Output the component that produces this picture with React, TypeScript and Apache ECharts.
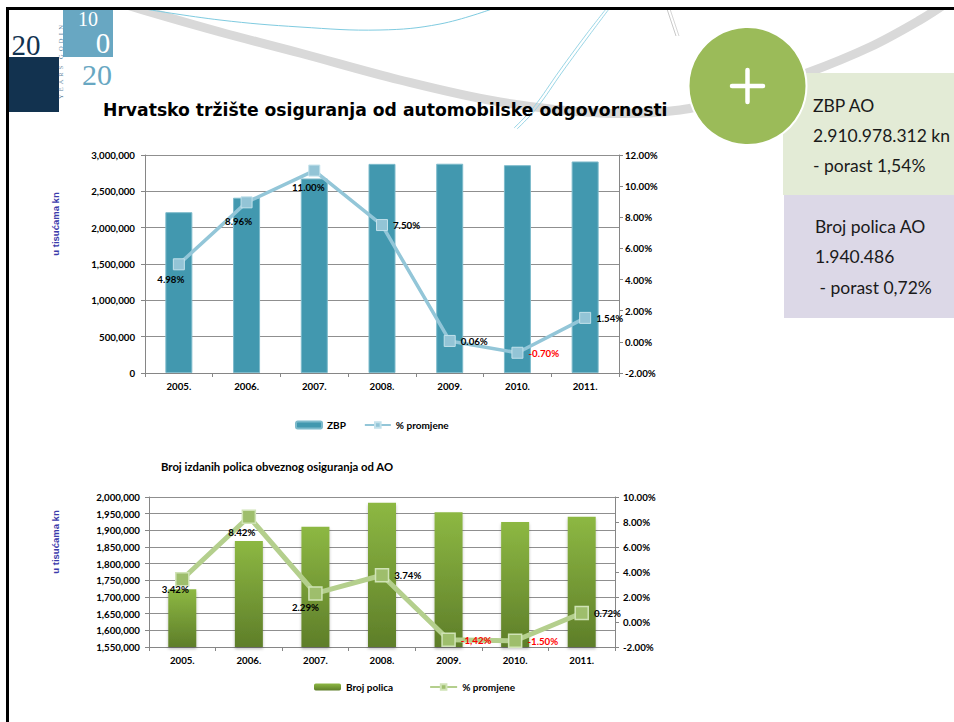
import React, { useEffect, useRef } from 'react';
import * as echarts from 'echarts';

// ---------- data ----------
const years = ['2005.', '2006.', '2007.', '2008.', '2009.', '2010.', '2011.'];

const zbpValues = [2213000, 2412000, 2677000, 2878000, 2880000, 2860000, 2910978];
const zbpChange = [4.98, 8.96, 11.0, 7.5, 0.06, -0.7, 1.54];
const zbpChangeLabels = ['4.98%', '8.96%', '11.00%', '7.50%', '0.06%', '-0.70%', '1.54%'];

const policyValues = [1723000, 1868000, 1911000, 1982500, 1954300, 1925000, 1940486];
const policyChange = [3.42, 8.42, 2.29, 3.74, -1.42, -1.5, 0.72];
const policyChangeLabels = ['3.42%', '8.42%', '2.29%', '3.74%', '-1,42%', '-1.50%', '0.72%'];

const zbpAxisLeft = [0, 3000000, 500000];
const zbpAxisRight = [-2, 12, 2];
const policyAxisLeft = [1550000, 2000000, 50000];
const policyAxisRight = [-2, 10, 2];

const zbpSummary = ['ZBP AO', '2.910.978.312 kn', '- porast 1,54%'];
const policySummary = ['Broj polica AO', '1.940.486', ' - porast 0,72%'];

// ---------- styling ----------
const LATO = 'Lato, "Open Sans", sans-serif';
const SERIF = '"Liberation Serif", serif';
const NARROW = '"Liberation Sans Narrow", "Liberation Sans", Arial, sans-serif';
const AX = '#868686';
const GRID = '#8f8f8f';

const zbpLabelPlace: any[] = [
  { position: 'bottom', offset: [-8, -1.5] },
  { position: 'bottom', offset: [-8, 3] },
  { position: 'bottom', offset: [-6, 0] },
  { position: 'right' },
  { position: 'right' },
  { position: 'right' },
  { position: 'right' },
];
const policyLabelPlace: any[] = [
  { position: 'bottom', offset: [-7, -7.5] },
  { position: 'bottom', offset: [-7, -2.5] },
  { position: 'bottom', offset: [-10, -4] },
  { position: 'right' },
  { position: 'right' },
  { position: 'right' },
  { position: 'right' },
];

const thousands = (v: number) => v.toLocaleString('en-US');
const pct = (v: number) => v.toFixed(2) + '%';

const axisText = { fontSize: 9.7, fontWeight: 'bold', fontFamily: LATO, color: '#000' };

function xAxisCfg(gridIndex: number) {
  return {
    type: 'category',
    gridIndex,
    data: years,
    axisLine: { onZero: false, lineStyle: { color: AX } },
    axisTick: { show: true, length: 4, lineStyle: { color: AX } },
    axisLabel: { ...axisText, margin: 8 },
  };
}

function leftAxis(gridIndex: number, r: number[], margin: number) {
  return {
    type: 'value',
    gridIndex,
    position: 'left',
    min: r[0],
    max: r[1],
    interval: r[2],
    axisLine: { show: true, lineStyle: { color: AX } },
    axisTick: { show: true, length: 4, lineStyle: { color: AX } },
    splitLine: { show: true, lineStyle: { color: GRID, width: 1 } },
    axisLabel: { ...axisText, margin, formatter: thousands },
  };
}

function rightAxis(gridIndex: number, r: number[], margin: number) {
  return {
    type: 'value',
    gridIndex,
    position: 'right',
    min: r[0],
    max: r[1],
    interval: r[2],
    axisLine: { show: true, lineStyle: { color: AX } },
    axisTick: { show: true, length: 4, lineStyle: { color: AX } },
    splitLine: { show: false },
    axisLabel: { ...axisText, margin, formatter: pct },
  };
}

function pctData(values: number[], labels: string[], place: any[]) {
  return values.map((v, i) => ({
    value: v,
    label: {
      show: true,
      ...place[i],
      formatter: labels[i],
      color: v < 0 ? '#ff0000' : '#000',
      fontSize: 9.7,
      fontWeight: 'bold',
      fontFamily: LATO,
    },
  }));
}

function buildOption(): any {
  const graphic: any[] = [
    // big grey arc
    {
      type: 'polyline',
      shape: {
        points: [
          [118, 2], [143, 10], [220, 32], [300, 53], [400, 80], [500, 102], [600, 113],
          [680, 110], [740, 95], [807, 73], [870, 47], [920, 20], [948, 2],
        ],
        smooth: 0.35,
      },
      style: { stroke: '#d9d9d9', lineWidth: 9, fill: null },
    },
    // thin grey lines
    { type: 'line', shape: { x1: 667, y1: 9, x2: 676, y2: 36 }, style: { stroke: '#c9c9c9', lineWidth: 1 } },
    { type: 'line', shape: { x1: 670, y1: 9, x2: 679, y2: 36 }, style: { stroke: '#d6d6d6', lineWidth: 1 } },
    // thin cyan curves
    {
      type: 'polyline',
      shape: { points: [[145, 9], [220, 20], [300, 27], [380, 30], [440, 24], [492, 9]], smooth: 0.4 },
      style: { stroke: '#7fcbe0', lineWidth: 1, fill: null },
    },
    {
      type: 'polyline',
      shape: { points: [[514, 128], [533, 108], [560, 70], [585, 36], [606, 9]], smooth: 0.4 },
      style: { stroke: '#9ad6e6', lineWidth: 1, fill: null },
    },
    {
      type: 'polyline',
      shape: { points: [[517, 129], [536, 109], [563, 71], [588, 37], [609, 9]], smooth: 0.4 },
      style: { stroke: '#9ad6e6', lineWidth: 1, fill: null },
    },
    // logo
    { type: 'rect', shape: { x: 63, y: 10, width: 50, height: 47 }, style: { fill: '#68a7c2' } },
    { type: 'rect', shape: { x: 7, y: 57, width: 52, height: 55 }, style: { fill: '#12324f' } },
    {
      type: 'text', x: 88, y: 19,
      style: { text: '10', fill: '#ffffff', fontSize: 20, fontFamily: SERIF, align: 'center', verticalAlign: 'middle' },
    },
    {
      type: 'text', x: 103, y: 43,
      style: { text: '0', fill: '#ffffff', fontSize: 29, fontFamily: SERIF, align: 'center', verticalAlign: 'middle' },
    },
    {
      type: 'text', x: 26, y: 45,
      style: { text: '20', fill: '#12324f', fontSize: 29, fontFamily: SERIF, align: 'center', verticalAlign: 'middle' },
    },
    {
      type: 'text', x: 97, y: 74,
      style: { text: '20', fill: '#68a7c2', fontSize: 30, fontFamily: SERIF, align: 'center', verticalAlign: 'middle' },
    },
    {
      type: 'text', x: 60, y: 62, rotation: Math.PI / 2,
      style: { text: 'Y  E  A  R  S    G  O  D  I  N', fill: '#5b7f9c', fontSize: 6.5, fontFamily: SERIF, align: 'center', verticalAlign: 'middle' },
    },
    // mask above frame + black frame
    { type: 'rect', shape: { x: 0, y: 0, width: 954, height: 7 }, style: { fill: '#ffffff' } },
    { type: 'rect', shape: { x: 6, y: 7, width: 948, height: 3 }, style: { fill: '#000000' } },
    { type: 'rect', shape: { x: 6, y: 7, width: 3, height: 715 }, style: { fill: '#000000' } },
    // summary boxes
    { type: 'rect', shape: { x: 783, y: 73, width: 171, height: 122 }, style: { fill: '#e3ebd6' } },
    { type: 'rect', shape: { x: 784, y: 195, width: 170, height: 123 }, style: { fill: '#dcd8e7' } },
    ...zbpSummary.map((t, i) => ({
      type: 'text', x: 813, y: 105 + i * 30,
      style: { text: t, fill: '#1a1a1a', fontSize: 17.5, fontFamily: LATO, align: 'left', verticalAlign: 'middle' },
    })),
    ...policySummary.map((t, i) => ({
      type: 'text', x: 815, y: 226 + i * 30.5,
      style: { text: t, fill: '#1a1a1a', fontSize: 17.5, fontFamily: LATO, align: 'left', verticalAlign: 'middle' },
    })),
    // green circle with plus
    { type: 'circle', shape: { cx: 747.5, cy: 86, r: 59 }, style: { fill: '#9bbb59', stroke: '#ffffff', lineWidth: 2 } },
    { type: 'line', shape: { x1: 732, y1: 86, x2: 763, y2: 86 }, style: { stroke: '#ffffff', lineWidth: 4.5, lineCap: 'round' } },
    { type: 'line', shape: { x1: 747.5, y1: 70, x2: 747.5, y2: 102 }, style: { stroke: '#ffffff', lineWidth: 4.5, lineCap: 'round' } },
    // titles
    {
      type: 'text', x: 103, y: 110,
      style: { text: 'Hrvatsko tržište osiguranja od automobilske odgovornosti', fill: '#000', fontSize: 17.2, fontWeight: 'bold', fontFamily: '"DejaVu Sans", sans-serif', align: 'left', verticalAlign: 'middle' },
    },
    {
      type: 'text', x: 161, y: 466,
      style: { text: 'Broj izdanih polica obveznog osiguranja od AO', fill: '#000', fontSize: 11.3, fontWeight: 'bold', fontFamily: LATO, align: 'left', verticalAlign: 'middle' },
    },
    // axis titles
    {
      type: 'text', x: 55, y: 224, rotation: Math.PI / 2,
      style: { text: 'u tisućama kn', fill: '#3b3bab', fontSize: 9.5, fontWeight: 'bold', fontFamily: NARROW, align: 'center', verticalAlign: 'middle' },
    },
    {
      type: 'text', x: 55, y: 542, rotation: Math.PI / 2,
      style: { text: 'u tisućama kn', fill: '#3b3bab', fontSize: 9.5, fontWeight: 'bold', fontFamily: NARROW, align: 'center', verticalAlign: 'middle' },
    },
  ];

  const legendText = { fontSize: 10, fontWeight: 'bold', fontFamily: LATO, color: '#000' };

  return {
    animation: false,
    backgroundColor: '#ffffff',
    graphic,
    grid: [
      { left: 145, top: 155, width: 474, height: 218 },
      { left: 149, top: 497, width: 466, height: 150 },
    ],
    xAxis: [xAxisCfg(0), xAxisCfg(1)],
    yAxis: [
      leftAxis(0, zbpAxisLeft, 10),
      rightAxis(0, zbpAxisRight, 6),
      leftAxis(1, policyAxisLeft, 9),
      rightAxis(1, policyAxisRight, 8),
    ],
    legend: [
      {
        left: 290, top: 415, padding: 5, itemWidth: 26, itemHeight: 7, itemGap: 18,
        data: ['ZBP', '% promjene'], textStyle: legendText, selectedMode: false,
      },
      {
        left: 309, top: 677, padding: 5, itemWidth: 27, itemHeight: 7, itemGap: 36,
        data: ['Broj polica', '% promjene '], textStyle: legendText, selectedMode: false,
        formatter: (n: string) => n.trim(),
      },
    ],
    series: [
      {
        type: 'bar', name: 'ZBP', xAxisIndex: 0, yAxisIndex: 0, data: zbpValues, barWidth: 27,
        itemStyle: { color: '#4298af', borderColor: '#7dbacb', borderWidth: 1 },
      },
      {
        type: 'line', name: '% promjene', xAxisIndex: 0, yAxisIndex: 1,
        data: pctData(zbpChange, zbpChangeLabels, zbpLabelPlace),
        symbol: 'rect', symbolSize: 11,
        lineStyle: { color: '#93c6d8', width: 3.5 },
        itemStyle: { color: '#93c4d6', borderColor: '#c2e1eb', borderWidth: 1 },
        z: 3,
      },
      {
        type: 'bar', name: 'Broj polica', xAxisIndex: 1, yAxisIndex: 2, data: policyValues, barWidth: 28,
        itemStyle: {
          color: new echarts.graphic.LinearGradient(0, 0, 0, 1, [
            { offset: 0, color: '#8db843' },
            { offset: 1, color: '#5e7e29' },
          ]),
          shadowColor: 'rgba(0,0,0,0.25)', shadowBlur: 3, shadowOffsetY: 2,
        },
      },
      {
        type: 'line', name: '% promjene ', xAxisIndex: 1, yAxisIndex: 3,
        data: pctData(policyChange, policyChangeLabels, policyLabelPlace),
        symbol: 'rect', symbolSize: 13,
        lineStyle: { color: '#b4cf8d', width: 5 },
        itemStyle: { color: '#9ebe6c', borderColor: '#d0e3b6', borderWidth: 1.5 },
        z: 3,
      },
    ],
  };
}

export default function App() {
  const ref = useRef<HTMLDivElement>(null);
  useEffect(() => {
    if (!ref.current) return;
    const chart = echarts.init(ref.current, null, { renderer: 'svg' });
    chart.setOption(buildOption());
    return () => chart.dispose();
  }, []);
  return (
    <div
      ref={ref}
      style={{ position: 'fixed', left: 0, top: 0, width: 954, height: 722, background: '#ffffff' }}
    />
  );
}
